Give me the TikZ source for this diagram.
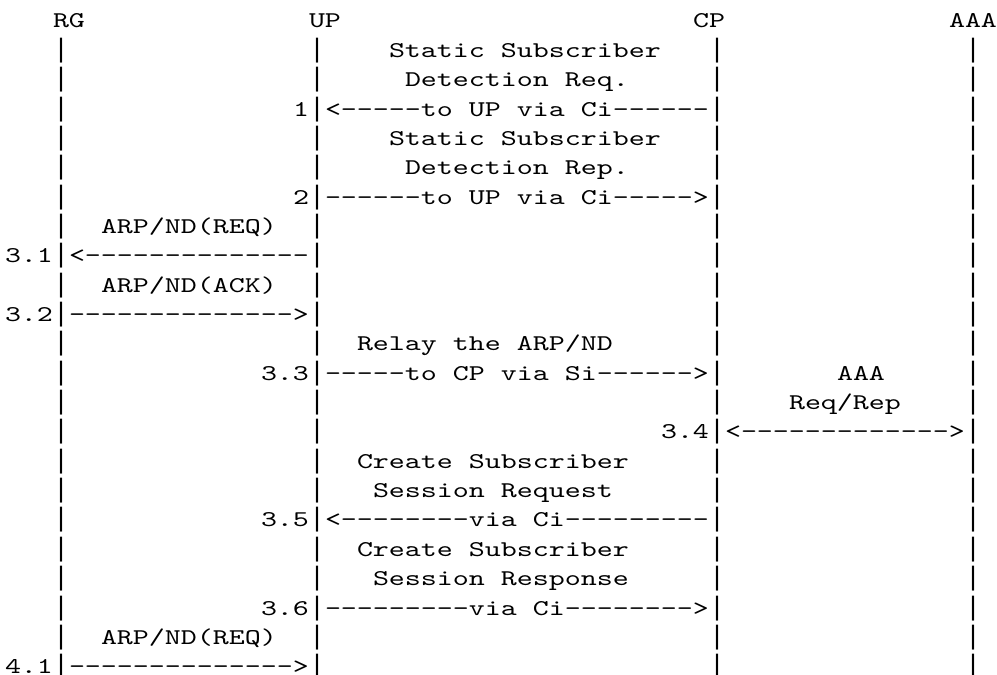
\documentclass[tikz,border=0pt]{standalone}
\usepackage{fontspec}
\setmonofont{lmmono10-regular.otf}[FakeStretch=1.354]
\newfontfamily\pipefont{Liberation Mono}
\begin{document}
\begin{tikzpicture}[x=1bp,y=-1bp,
  txt/.style={anchor=base west, inner sep=0pt, outer sep=0pt,
    font=\ttfamily\fontsize{22.5bp}{30bp}\selectfont},
  pipe/.style={anchor=base west, inner sep=0pt, outer sep=0pt,
    font=\pipefont\fontsize{26.67bp}{30bp}\selectfont}]
\fill[white] (0,0) rectangle (997,675);
\useasboundingbox (0,0) rectangle (997,675);
\newcommand\putcell[4]{\node[txt] (#1) at ({5+16*#2},{28+29.35*#3}) {#4};}
% header
\putcell{rg}{3}{0}{RG}
\putcell{up}{19}{0}{UP}
\putcell{cp}{43}{0}{CP}
\putcell{aaa}{59}{0}{AAA}
% lifelines
\foreach \r in {1,...,22}{
  \foreach \c/\n in {3/rg,19/up,44/cp,60/aaa}{
    \node[pipe] (\n-\r) at ({5+16*\c},{28+29.35*\r}) {|};
  }
}
% messages
\putcell{m1a}{24}{1}{Static Subscriber}
\putcell{m1b}{25}{2}{Detection Req.}
\putcell{n1}{18}{3}{1}
\putcell{a1}{20}{3}{<-----to UP via Ci------}
\putcell{m2a}{24}{4}{Static Subscriber}
\putcell{m2b}{25}{5}{Detection Rep.}
\putcell{n2}{18}{6}{2}
\putcell{a2}{20}{6}{------to UP via Ci----->}
\putcell{m31}{6}{7}{ARP/ND(REQ)}
\putcell{n31}{0}{8}{3.1}
\putcell{a31}{4}{8}{<--------------}
\putcell{m32}{6}{9}{ARP/ND(ACK)}
\putcell{n32}{0}{10}{3.2}
\putcell{a32}{4}{10}{-------------->}
\putcell{m33}{22}{11}{Relay the ARP/ND}
\putcell{n33}{16}{12}{3.3}
\putcell{a33}{20}{12}{-----to CP via Si------>}
\putcell{m34a}{52}{12}{AAA}
\putcell{m34b}{49}{13}{Req/Rep}
\putcell{n34}{41}{14}{3.4}
\putcell{a34}{45}{14}{<------------->}
\putcell{m35a}{22}{15}{Create Subscriber}
\putcell{m35b}{23}{16}{Session Request}
\putcell{n35}{16}{17}{3.5}
\putcell{a35}{20}{17}{<--------via Ci---------}
\putcell{m36a}{22}{18}{Create Subscriber}
\putcell{m36b}{23}{19}{Session Response}
\putcell{n36}{16}{20}{3.6}
\putcell{a36}{20}{20}{---------via Ci-------->}
\putcell{m41}{6}{21}{ARP/ND(REQ)}
\putcell{n41}{0}{22}{4.1}
\putcell{a41}{4}{22}{-------------->}
\end{tikzpicture}
\end{document}
